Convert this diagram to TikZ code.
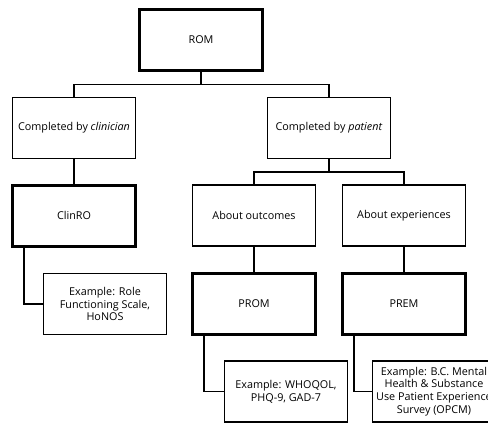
\documentclass[tikz,border=0pt]{standalone}
\usepackage{fontspec}
\setmainfont{Open Sans}
\usepackage{tikz}
\usetikzlibrary{positioning, calc}

\begin{document}
\begin{tikzpicture}[x=1pt, y=-1pt,
        box/.style={rectangle, draw=black, line width=1.3pt, fill=white, minimum width=123pt, minimum height=61pt, inner sep=1pt, align=center, font=\fontsize{10.8}{12.8}\selectfont},
        mainbox/.style={box, line width=3pt},
        conn/.style={line width=1.5pt}
    ]
        \useasboundingbox (0,0) rectangle (488,423);
        \clip (0,0) rectangle (488,423);
        \fill[white] (0,0) rectangle (488,423);

        \node[mainbox] (rom) at (201,40) {ROM};

        % Who completes it
        \node[box] (clin) at (74,128) {Completed by \textit{clinician}};
        \node[box] (pat) at (329,128) {Completed by \textit{patient}};
        \draw[conn] (rom.south) -- ++(0,12.5) -| (clin.north);
        \draw[conn] (rom.south) -- ++(0,12.5) -| (pat.north);

        % Clinician side
        \node[mainbox] (clinro) at (74,215.5) {ClinRO};
        \node[box] (exclin) at (105,304) {Example: Role\\Functioning Scale,\\HoNOS};
        \draw[conn] (clin) -- (clinro);
        \draw[conn] ([xshift=13pt]clinro.south west) |- (exclin.west);

        % Patient side
        \node[box] (outc) at (254,215.5) {About outcomes};
        \node[box] (exper) at (404,215.5) {About experiences};
        \draw[conn] (pat.south) -- ++(0,13) -| (outc.north);
        \draw[conn] (pat.south) -- ++(0,13) -| (exper.north);

        \node[mainbox] (prom) at (254,303.5) {PROM};
        \node[mainbox] (prem) at (404,303.5) {PREM};
        \draw[conn] (outc) -- (prom);
        \draw[conn] (exper) -- (prem);

        \node[box] (exprom) at (286,391.5) {Example: WHOQOL,\\PHQ-9, GAD-7};
        \node[box] (exprem) at (434,391.5) {Example: B.C. Mental\\Health \& Substance\\Use Patient Experience\\Survey (OPCM)};
        \draw[conn] ([xshift=13pt]prom.south west) |- (exprom.west);
        \draw[conn] ([xshift=13pt]prem.south west) |- (exprem.west);
    \end{tikzpicture}
\end{document}
